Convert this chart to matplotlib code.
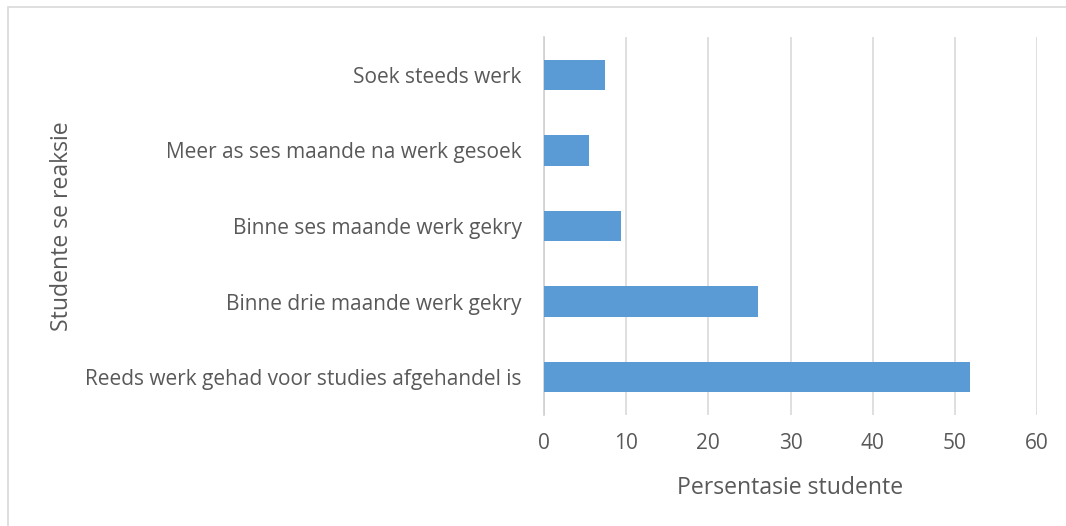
import matplotlib.pyplot as plt
from matplotlib.patches import Rectangle

categories = ["Reeds werk gehad voor studies afgehandel is",
              "Binne drie maande werk gekry",
              "Binne ses maande werk gekry",
              "Meer as ses maande na werk gesoek",
              "Soek steeds werk"]
values = [51.8, 26.1, 9.35, 5.45, 7.4]
xticks = [0, 10, 20, 30, 40, 50, 60]

txt = '#595959'
plt.rcParams['font.family'] = ['Open Sans', 'DejaVu Sans']

fig = plt.figure(figsize=(10.66, 5.26), dpi=100)
ax = fig.add_axes([544/1066, 1-415/526, (1037-544)/1066, (415-37)/526])

ax.barh(range(len(categories)), values, height=0.4, color='#5B9BD5', zorder=3)
ax.set_xlim(0, 60)
ax.set_ylim(-0.5, 4.5)
ax.set_xticks(xticks)
ax.set_yticks(range(len(categories)))
ax.set_yticklabels(categories)
ax.grid(axis='x', color='#D9D9D9', linewidth=1.2, zorder=0)
for s in ['top', 'right', 'bottom']:
    ax.spines[s].set_visible(False)
ax.spines['left'].set_color('#D0D0D0')
ax.spines['left'].set_linewidth(1.2)
ax.tick_params(axis='both', length=0, labelsize=15, labelcolor=txt)
ax.tick_params(axis='y', pad=16)
ax.tick_params(axis='x', pad=13)

ax.set_xlabel("Persentasie studente", fontsize=16.6, color=txt, labelpad=16)
fig.text(62/1066, 1-226/526, "Studente se reaksie", rotation=90, fontsize=16.6,
         color=txt, ha='center', va='center')

fig.patches.append(Rectangle((8/1066, -0.1), 1.2, 1-7/526+0.1, transform=fig.transFigure,
                             fill=False, edgecolor='#D9D9D9', linewidth=1.2))

fig.savefig("out.png", dpi=100)
